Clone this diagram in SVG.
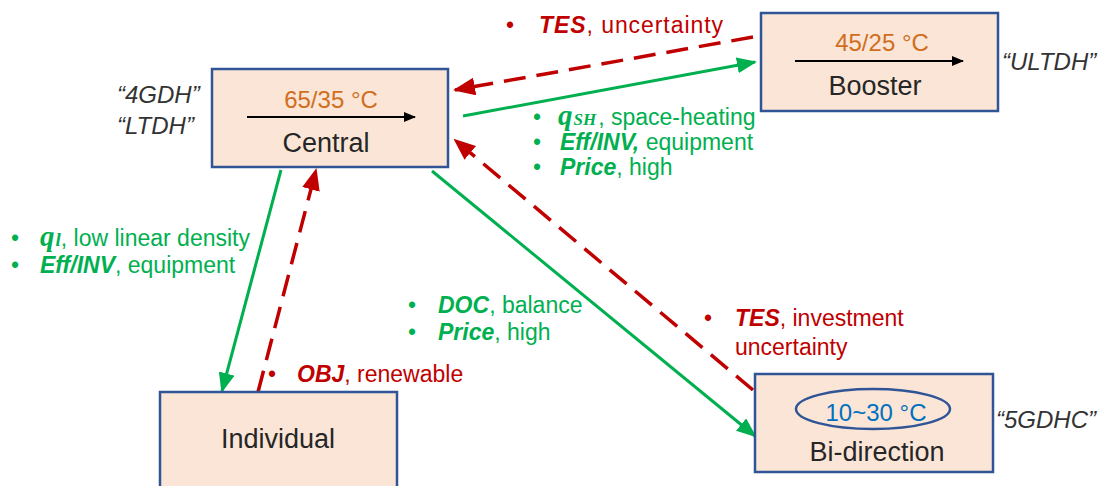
<svg xmlns="http://www.w3.org/2000/svg" width="1106" height="486" viewBox="0 0 1106 486">
<style>
.box{fill:#FBE5D6;stroke:#2F5597;stroke-width:2.5}
.name{font-family:"Liberation Sans",Arial,sans-serif;font-size:27px;fill:#262626;text-anchor:middle}
.temp{font-family:"Liberation Sans",Arial,sans-serif;font-size:24px;text-anchor:middle}
.quote{font-family:"Liberation Sans",Arial,sans-serif;font-size:24px;font-style:italic;fill:#333333}
.lbl{font-family:"Liberation Sans",Arial,sans-serif;font-size:23px}
.g{fill:#00B050}
.r{fill:#C00000}
.b{font-weight:bold;font-style:italic}
.m{font-family:"Liberation Serif","Times New Roman",serif;font-weight:bold;font-style:italic}
.gl{stroke:#00B050;stroke-width:3;fill:none}
.rl{stroke:#C00000;stroke-width:3.5;fill:none;stroke-dasharray:22 11}
.kl{stroke:#000;stroke-width:2;fill:none}
</style>
<defs>
<marker id="ag" markerUnits="userSpaceOnUse" markerWidth="20" markerHeight="16" refX="18" refY="8" orient="auto"><path d="M0,0 L20,8 L0,16 z" fill="#00B050"/></marker>
<marker id="ar" markerUnits="userSpaceOnUse" markerWidth="22" markerHeight="18" refX="20" refY="9" orient="auto"><path d="M0,0 L22,9 L0,18 z" fill="#C00000"/></marker>
<marker id="ak" markerUnits="userSpaceOnUse" markerWidth="12" markerHeight="10" refX="11" refY="5" orient="auto"><path d="M0,0 L12,5 L0,10 z" fill="#000"/></marker>
</defs>

<g id="connectors">
<line class="gl" x1="463" y1="116" x2="755" y2="62" marker-end="url(#ag)"/>
<line class="gl" x1="281" y1="170" x2="222" y2="391" marker-end="url(#ag)"/>
<line class="gl" x1="432" y1="171" x2="755" y2="436" marker-end="url(#ag)"/>
<line class="rl" x1="753" y1="37" x2="455" y2="90" marker-end="url(#ar)"/>
<line class="rl" x1="258" y1="392" x2="316" y2="170" marker-end="url(#ar)"/>
<line class="rl" x1="753" y1="390" x2="455" y2="140" marker-end="url(#ar)"/>
</g>

<g id="central">
<rect class="box" x="212" y="69" width="236" height="98"/>
<text class="temp" x="331" y="108" fill="#D06E1E">65/35 °C</text>
<line class="kl" x1="247" y1="117" x2="415" y2="117" marker-end="url(#ak)"/>
<text class="name" x="326" y="152">Central</text>
<text class="quote" x="117" y="103">“4GDH”</text>
<text class="quote" x="117" y="134">“LTDH”</text>
</g>

<g id="booster">
<rect class="box" x="761" y="13" width="237" height="98"/>
<text class="temp" x="882" y="51" fill="#D06E1E">45/25 °C</text>
<line class="kl" x1="795" y1="61" x2="963" y2="61" marker-end="url(#ak)"/>
<text class="name" x="875" y="95">Booster</text>
<text class="quote" x="1002" y="70">“ULTDH”</text>
</g>

<g id="individual">
<rect class="box" x="160" y="392" width="237" height="100"/>
<text class="name" x="278" y="448">Individual</text>
</g>

<g id="bidirection">
<rect class="box" x="755" y="374" width="238" height="98"/>
<ellipse cx="873" cy="409" rx="77" ry="20" fill="none" stroke="#2F5597" stroke-width="2.5"/>
<text class="temp" x="876" y="421" fill="#0070C0">10~30 °C</text>
<text class="name" x="877" y="461">Bi-direction</text>
<text class="quote" x="996" y="428">“5GDHC”</text>
</g>

<g id="labels">
<text class="lbl r" x="506" y="33">•</text>
<text class="lbl r" x="539" y="33" textLength="184" lengthAdjust="spacing"><tspan class="b">TES</tspan>, uncertainty</text>

<text class="lbl g" x="533" y="125">•</text>
<text class="lbl g" x="558" y="125"><tspan class="m" font-size="29">q</tspan><tspan class="m" font-size="17" dx="1">SH</tspan><tspan dx="2">, space-heating</tspan></text>
<text class="lbl g" x="533" y="150">•</text>
<text class="lbl g" x="560" y="150"><tspan class="b">Eff/INV,</tspan> equipment</text>
<text class="lbl g" x="533" y="175">•</text>
<text class="lbl g" x="560" y="175"><tspan class="b">Price</tspan>, high</text>

<text class="lbl g" x="11" y="246">•</text>
<text class="lbl g" x="40" y="246"><tspan class="m" font-size="29">q</tspan><tspan class="m" font-size="19" dx="1">l</tspan>, low linear density</text>
<text class="lbl g" x="11" y="273">•</text>
<text class="lbl g" x="40" y="273"><tspan class="b">Eff/INV</tspan>, equipment</text>

<text class="lbl g" x="408" y="313">•</text>
<text class="lbl g" x="438" y="313"><tspan class="b">DOC</tspan>, balance</text>
<text class="lbl g" x="408" y="340">•</text>
<text class="lbl g" x="438" y="340"><tspan class="b">Price</tspan>, high</text>

<text class="lbl r" x="704" y="326">•</text>
<text class="lbl r" x="735" y="326"><tspan class="b">TES</tspan>, investment</text>
<text class="lbl r" x="735" y="355">uncertainty</text>

<text class="lbl r" x="268" y="382">•</text>
<text class="lbl r" x="297" y="382"><tspan class="b">OBJ</tspan>, renewable</text>
</g>
</svg>
